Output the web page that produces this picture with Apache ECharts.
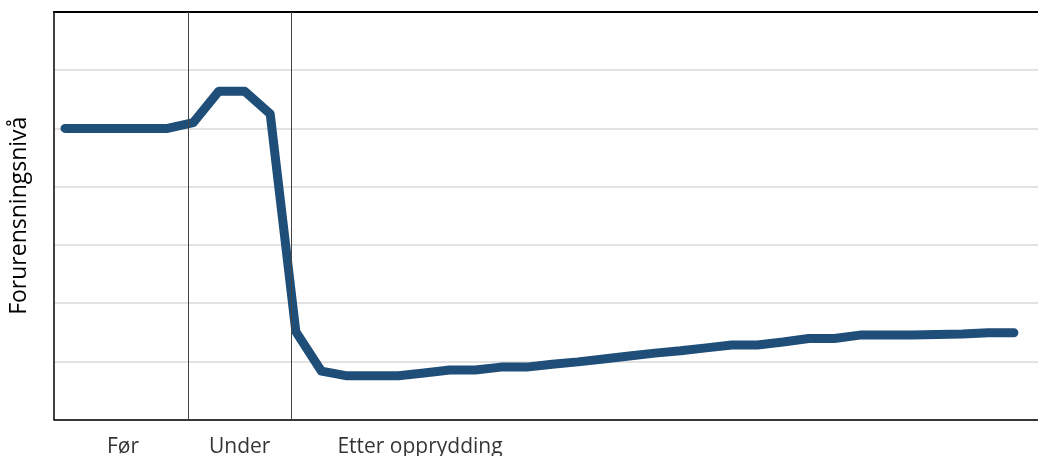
<!DOCTYPE html>
<html>
<head>
<meta charset="utf-8">
<script src="https://cdn.jsdelivr.net/npm/echarts@6/dist/echarts.min.js"></script>
<style>html,body{margin:0;padding:0;background:#fff}#c{width:1038px;height:456px}</style>
</head>
<body>
<div id="c"></div>
<script>
// pollution level per time step (index 0..37)
const levels = [5.0,5.0,5.0,5.0,5.0,5.1,5.64,5.64,5.25,1.51,0.83,0.75,0.75,0.75,0.80,0.85,0.85,0.90,0.90,0.95,0.99,1.04,1.09,1.14,1.18,1.23,1.28,1.28,1.33,1.39,1.39,1.45,1.45,1.45,1.46,1.47,1.49,1.49];
// phase separators (in time-step units)
const phaseBounds = [4.8, 8.83];
// phase labels and their x position (time-step units)
const phaseLabels = ['Før', 'Under', 'Etter opprydding'];
const phaseLabelX = [2.26, 6.81, 10.62];
const phaseLabelAlign = ['center', 'center', 'left'];
const yTitle = 'Forurensningsnivå';

const font = '"Open Sans", "Liberation Sans", sans-serif';
const chart = echarts.init(document.getElementById('c'), null, {renderer: 'canvas'});
chart.setOption({
  animation: false,
  grid: {left: 52, top: 12, right: 0, bottom: 36.5},
  xAxis: [{
    type: 'value', min: -0.43, max: 37.94,
    axisLine: {show: true, onZero: false, lineStyle: {color: '#000', width: 1.5}},
    axisTick: {show: false}, axisLabel: {show: false}, splitLine: {show: false}
  }, {
    type: 'value', position: 'top', min: -0.43, max: 37.94,
    axisLine: {show: true, onZero: false, lineStyle: {color: '#000', width: 2}},
    axisTick: {show: false}, axisLabel: {show: false}, splitLine: {show: false}
  }],
  yAxis: {
    type: 'value', min: 0, max: 7, interval: 1,
    name: yTitle, nameLocation: 'middle', nameRotate: 90, nameGap: 23,
    nameTextStyle: {fontFamily: font, fontSize: 23, color: '#000'},
    axisLine: {show: true, onZero: false, lineStyle: {color: '#000', width: 1.5}},
    axisTick: {show: false}, axisLabel: {show: false},
    splitLine: {show: true, lineStyle: {color: '#d9d9d9', width: 1.5}}
  },
  series: [{
    type: 'line',
    data: levels.map((v, i) => [i, v]),
    symbol: 'none',
    lineStyle: {color: '#1f4e79', width: 9, cap: 'round', join: 'round'},
    markLine: {
      silent: true, symbol: ['none', 'none'], label: {show: false},
      lineStyle: {color: '#444', width: 1, type: 'solid'},
      data: phaseBounds.map(x => ({xAxis: x}))
    },
    z: 3
  }, {
    type: 'scatter',
    clip: false,
    symbolSize: 0,
    data: phaseLabels.map((t, i) => ({
      value: [phaseLabelX[i], -0.47], name: t,
      label: {align: phaseLabelAlign[i]}
    })),
    label: {
      show: true, position: 'inside', formatter: p => p.name,
      fontFamily: font, fontSize: 21, color: '#000', verticalAlign: 'middle'
    }
  }]
});
</script>
</body>
</html>
